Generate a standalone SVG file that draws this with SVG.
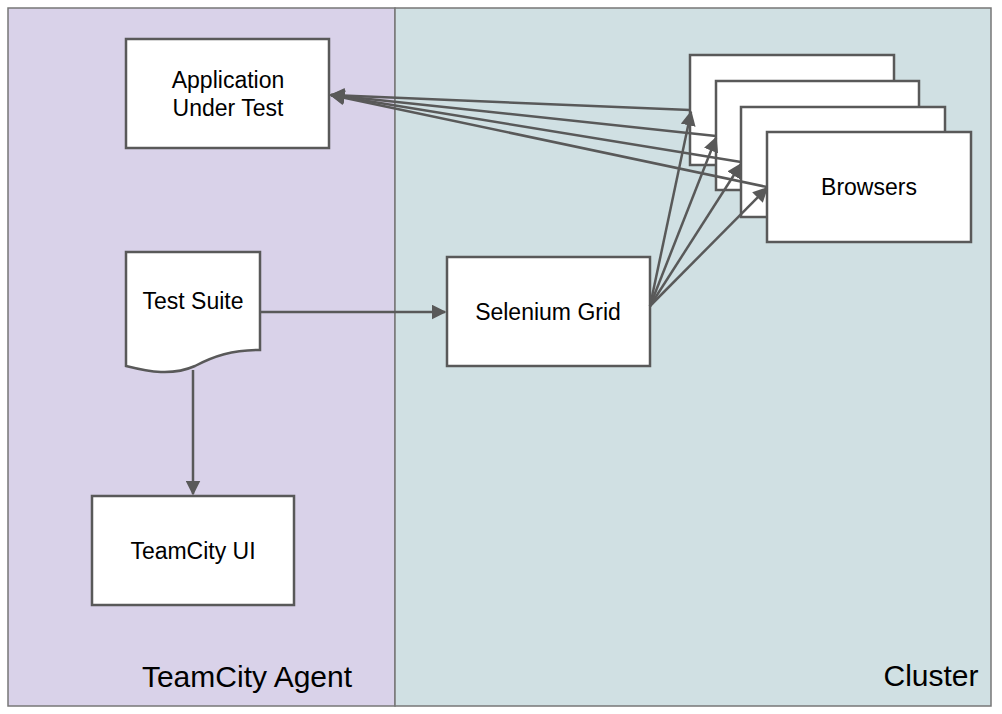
<svg xmlns="http://www.w3.org/2000/svg" width="1002" height="714" viewBox="0 0 1002 714">
<style>
.node{fill:#ffffff;stroke:#595959;stroke-width:2.5}
.lbl{font-family:"Liberation Sans",Arial,sans-serif;font-size:23px;fill:#000;text-anchor:middle}
.big{font-family:"Liberation Sans",Arial,sans-serif;font-size:30px;fill:#000;text-anchor:middle}
.edge{stroke:#595959;stroke-width:2.5;fill:none}
</style>
<defs>
<marker id="ah" viewBox="0 0 10 10" refX="9" refY="5" markerWidth="6" markerHeight="6" orient="auto" markerUnits="strokeWidth">
<path d="M0,0 L10,5 L0,10 Z" fill="#595959"/>
</marker>
</defs>
<rect width="1002" height="714" fill="#ffffff"/>
<g id="agent">
<rect x="8" y="8" width="387" height="698" fill="#d9d2e9" stroke="#777" stroke-width="1.5"/>
<text class="big" x="247" y="687">TeamCity Agent</text>
</g>
<g id="cluster">
<rect x="395" y="8" width="596" height="698" fill="#d0e0e3" stroke="#777" stroke-width="1.5"/>
<text class="big" x="931" y="686">Cluster</text>
</g>
<g id="aut">
<rect class="node" x="126" y="39" width="203" height="109"/>
<text class="lbl" x="228" y="88">Application</text>
<text class="lbl" x="228" y="116">Under Test</text>
</g>
<g id="testsuite">
<path class="node" d="M126,252 H260 V350 C232,350 214,356 195,366 C172,376 150,372 126,366 Z"/>
<text class="lbl" x="193" y="309">Test Suite</text>
</g>
<g id="teamcityui">
<rect class="node" x="92" y="496" width="202" height="109"/>
<text class="lbl" x="193" y="559">TeamCity UI</text>
</g>
<g id="grid">
<rect class="node" x="447" y="257" width="203" height="109"/>
<text class="lbl" x="548" y="320">Selenium Grid</text>
</g>
<g id="browsers">
<rect class="node" x="690" y="55" width="204" height="110"/>
<rect class="node" x="716" y="81" width="203" height="109"/>
<rect class="node" x="741" y="107" width="204" height="110"/>
<rect class="node" x="767" y="132" width="204" height="110"/>
<text class="lbl" x="869" y="195">Browsers</text>
</g>
<g id="connectors">
<line class="edge" x1="260" y1="312" x2="445" y2="312" marker-end="url(#ah)"/>
<line class="edge" x1="193" y1="370" x2="193" y2="494" marker-end="url(#ah)"/>
<line class="edge" x1="690" y1="110" x2="331" y2="95" marker-end="url(#ah)"/>
<line class="edge" x1="716" y1="136" x2="331" y2="95" marker-end="url(#ah)"/>
<line class="edge" x1="741" y1="162" x2="331" y2="95" marker-end="url(#ah)"/>
<line class="edge" x1="767" y1="187" x2="331" y2="95" marker-end="url(#ah)"/>
<line class="edge" x1="650" y1="306" x2="691" y2="112" marker-end="url(#ah)"/>
<line class="edge" x1="650" y1="306" x2="716" y2="138" marker-end="url(#ah)"/>
<line class="edge" x1="650" y1="306" x2="741" y2="164" marker-end="url(#ah)"/>
<line class="edge" x1="650" y1="306" x2="767" y2="188" marker-end="url(#ah)"/>
</g>
</svg>
